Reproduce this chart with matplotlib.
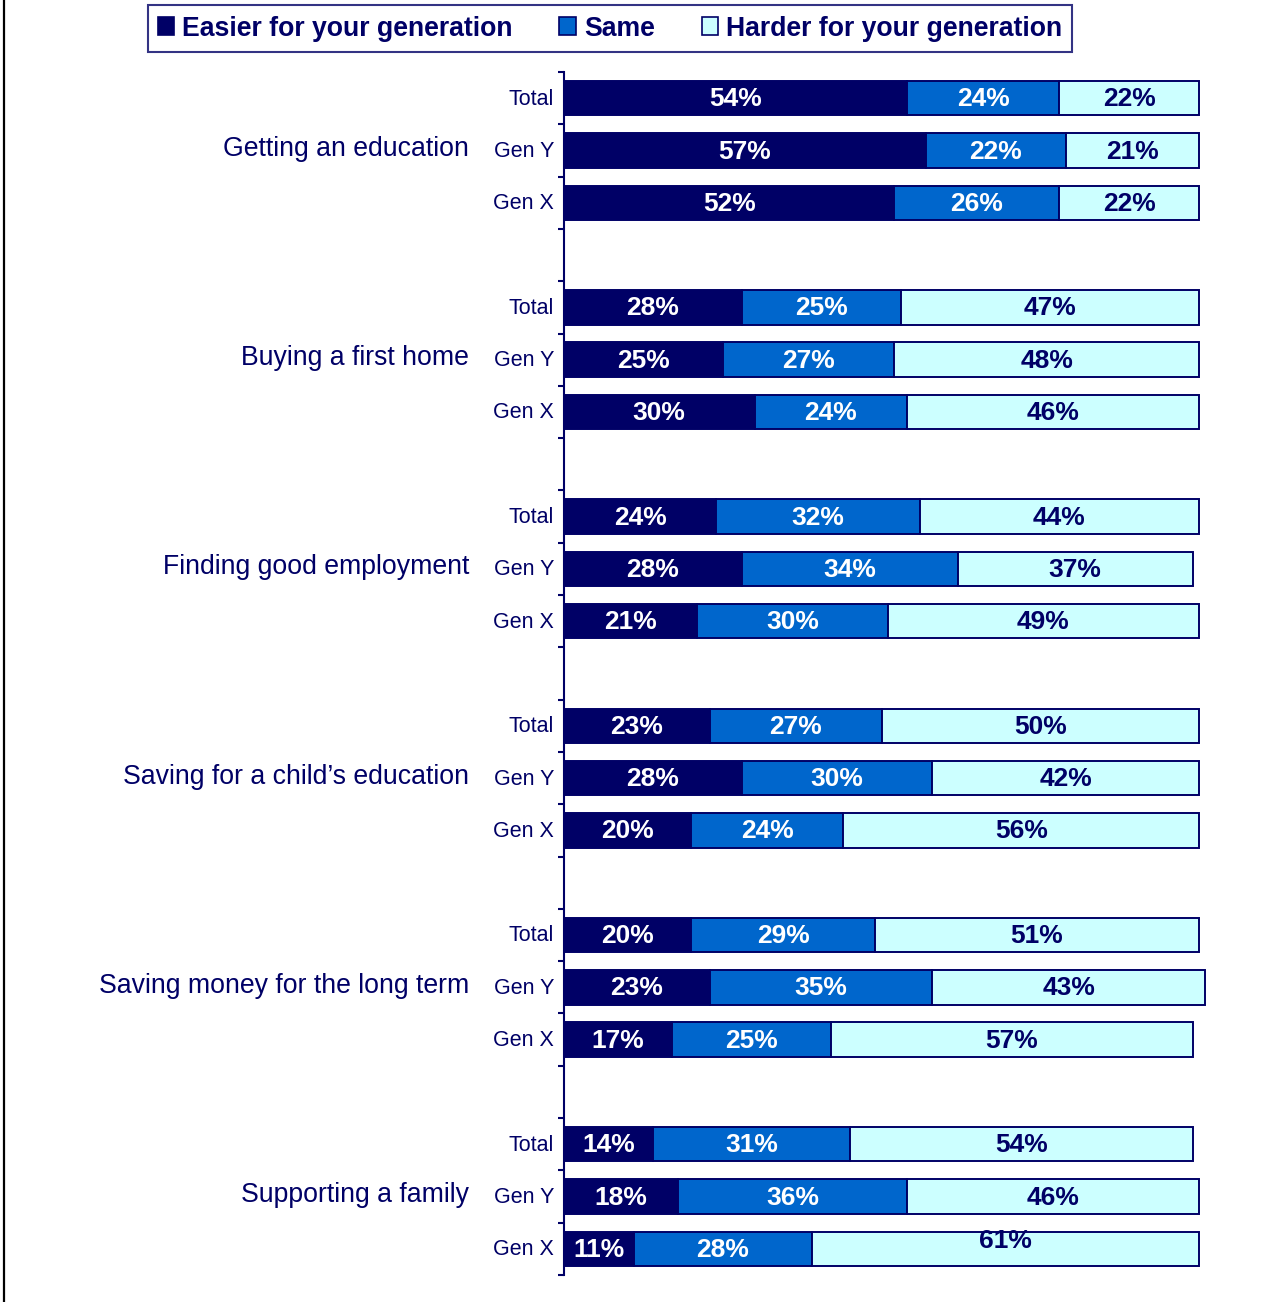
import numpy as np
import matplotlib
matplotlib.use("Agg")
import matplotlib.pyplot as plt
import matplotlib.transforms as mtransforms
from matplotlib.patches import Patch
from matplotlib.lines import Line2D

plt.rcParams['font.family'] = ['Liberation Sans', 'DejaVu Sans']

groups = ["Getting an education", "Buying a first home", "Finding good employment",
          "Saving for a child\u2019s education", "Saving money for the long term",
          "Supporting a family"]
rows = ["Total", "Gen Y", "Gen X"]
series = ["Easier for your generation", "Same", "Harder for your generation"]

easier = [[54, 57, 52], [28, 25, 30], [24, 28, 21], [23, 28, 20], [20, 23, 17], [14, 18, 11]]
same = [[24, 22, 26], [25, 27, 24], [32, 34, 30], [27, 30, 24], [29, 35, 25], [31, 36, 28]]
harder = [[22, 21, 22], [47, 48, 46], [44, 37, 49], [50, 42, 56], [51, 43, 57], [54, 46, 61]]

NAVY = "#000066"
colors = ["#000066", "#0066CC", "#CCFFFF"]
text_colors = ["white", "white", NAVY]

W, H, DPI = 1274, 1302, 100
fig = plt.figure(figsize=(W / DPI, H / DPI), dpi=DPI)

# axes placed so the slot grid runs from y=72 to y=1275 px
left_px, top_px, bottom_px = 564, 72, 1275
px_per_unit = 6.35
xmax = 105
ax = fig.add_axes([left_px / W, (H - bottom_px) / H,
                   xmax * px_per_unit / W, (bottom_px - top_px) / H])

n_slots = len(groups) * 4 - 1
ypos = []
for g in range(len(groups)):
    for r in range(len(rows)):
        ypos.append(g * 4 + r)
ypos = np.array(ypos)

vals = [np.array(s).ravel() for s in (easier, same, harder)]
lefts = np.zeros(len(ypos))
for k, v in enumerate(vals):
    ax.barh(ypos, v, left=lefts, height=0.66, color=colors[k],
            edgecolor=NAVY, linewidth=1.4, clip_on=False, zorder=2)
    for i, (y, val) in enumerate(zip(ypos, v)):
        dy = 0
        # the 61% label sits a bit high in the last row
        if k == 2 and i == len(ypos) - 1:
            dy = 0.17
        ax.text(lefts[i] + val / 2, y - dy + 0.02, f"{val}%", ha="center", va="center",
                color=text_colors[k], fontsize=19, fontweight="bold", zorder=3)
    lefts = lefts + v

ax.set_xlim(0, xmax)
ax.set_ylim(n_slots - 0.5, -0.5)

ax.set_yticks(ypos - 0.03)
ax.set_yticklabels(rows * len(groups), fontsize=15.5, color=NAVY)
ax.tick_params(axis="y", which="major", length=0, pad=7)
ax.set_yticks(np.arange(-0.5, n_slots, 1.0), minor=True)
ax.tick_params(axis="y", which="minor", length=4.5, width=1.5, color=NAVY)
ax.set_xticks([])
for side in ("top", "right", "bottom"):
    ax.spines[side].set_visible(False)
ax.spines["left"].set_color(NAVY)
ax.spines["left"].set_linewidth(1.5)
ax.patch.set_visible(False)

# group names, right-aligned left of the row labels
trans = mtransforms.blended_transform_factory(fig.transFigure, ax.transData)
for g, name in enumerate(groups):
    fig.text(469 / W, g * 4 + 1 - 0.03, name, transform=trans, ha="right", va="center",
             fontsize=19.2, color=NAVY)

handles = [Patch(facecolor=c, edgecolor=NAVY, linewidth=1.2) for c in colors]
leg = fig.legend(handles, series, loc="center", bbox_to_anchor=(610 / W, 1 - 28.5 / H),
                 ncol=3, prop={"weight": "bold", "size": 19.2},
                 handlelength=0.62, handleheight=0.62, handletextpad=0.3,
                 columnspacing=1.75, borderpad=0.38, borderaxespad=0,
                 frameon=True, fancybox=False)
leg.get_frame().set_edgecolor(NAVY)
leg.get_frame().set_linewidth(1.5)
for t in leg.get_texts():
    t.set_color(NAVY)

# frame line on the left edge
fig.add_artist(Line2D([4 / W, 4 / W], [0, 1], transform=fig.transFigure,
                      color="black", linewidth=1.6))

fig.savefig("out.png", dpi=DPI)
